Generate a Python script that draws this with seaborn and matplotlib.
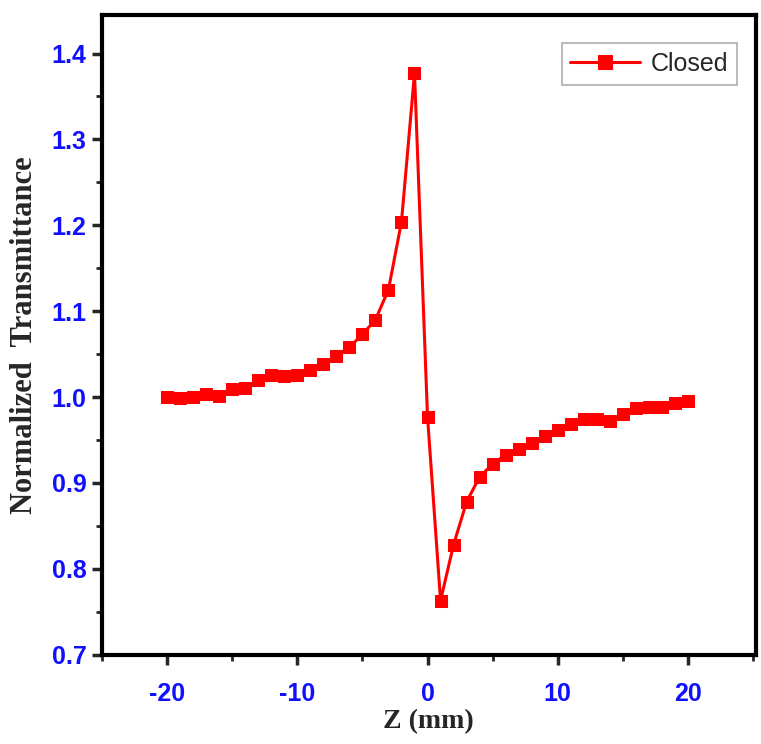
import numpy as np
import pandas as pd
import seaborn as sns
import matplotlib.pyplot as plt
from matplotlib.ticker import MultipleLocator

# Z-scan closed aperture data
z_mm = [-20, -19, -18, -17, -16, -15, -14, -13, -12, -11, -10, -9, -8, -7, -6,
        -5, -4, -3, -2, -1, 0, 1, 2, 3, 4, 5, 6, 7, 8, 9, 10, 11, 12, 13, 14,
        15, 16, 17, 18, 19, 20]
transmittance = [1.000, 0.999, 1.000, 1.003, 1.001, 1.009, 1.010, 1.020, 1.026,
                 1.024, 1.026, 1.032, 1.038, 1.048, 1.058, 1.073, 1.090, 1.125,
                 1.204, 1.377, 0.977, 0.763, 0.828, 0.878, 0.907, 0.922, 0.933,
                 0.939, 0.946, 0.955, 0.962, 0.969, 0.974, 0.975, 0.972, 0.980,
                 0.987, 0.989, 0.989, 0.993, 0.995]

df = pd.DataFrame({"Z": z_mm, "T": transmittance})

sns.set_style("white")
plt.rcParams['font.family'] = ['Liberation Sans', 'DejaVu Sans']
plt.rcParams['axes.unicode_minus'] = False

fig = plt.figure(figsize=(7.61, 7.44), dpi=100)
ax = fig.add_axes([0.134, 0.12, 0.859, 0.86])

sns.lineplot(data=df, x="Z", y="T", ax=ax, color="red", marker="s",
             markersize=8.5, markeredgecolor="red", linewidth=2.2, label="Closed")

ax.set_xlim(-25, 25.2)
ax.set_ylim(0.7, 1.445)
ax.xaxis.set_major_locator(MultipleLocator(10))
ax.xaxis.set_minor_locator(MultipleLocator(5))
ax.yaxis.set_major_locator(MultipleLocator(0.1))
ax.yaxis.set_minor_locator(MultipleLocator(0.05))
ax.yaxis.set_major_formatter(plt.FuncFormatter(lambda v, p: f"{v:.1f}"))

ax.tick_params(which="major", direction="out", length=7, width=2.5,
               bottom=True, left=True, labelsize=18, labelcolor="#1010ff")
ax.tick_params(axis="x", which="major", pad=13)
ax.tick_params(axis="y", which="major", pad=4)
ax.tick_params(which="minor", direction="out", length=4, width=2,
               bottom=True, left=True)
for lab in ax.get_xticklabels() + ax.get_yticklabels():
    lab.set_fontweight("bold")

for sp in ax.spines.values():
    sp.set_linewidth(3)
    sp.set_color("black")

ax.set_xlabel("Z (mm)", fontsize=20, fontweight="bold",
              family="Liberation Serif", labelpad=2)
ax.set_ylabel("Normalized  Transmittance", fontsize=22, fontweight="bold",
              family="Liberation Serif", labelpad=9)

leg = ax.legend(loc="upper right", bbox_to_anchor=(0.971, 0.956),
                borderaxespad=0, fontsize=18, frameon=True, fancybox=False,
                edgecolor="#999999", handlelength=2.8, markerscale=1.15,
                borderpad=0.35, handletextpad=0.4)
leg.get_frame().set_linewidth(1.2)

fig.savefig("out.png", dpi=100)
